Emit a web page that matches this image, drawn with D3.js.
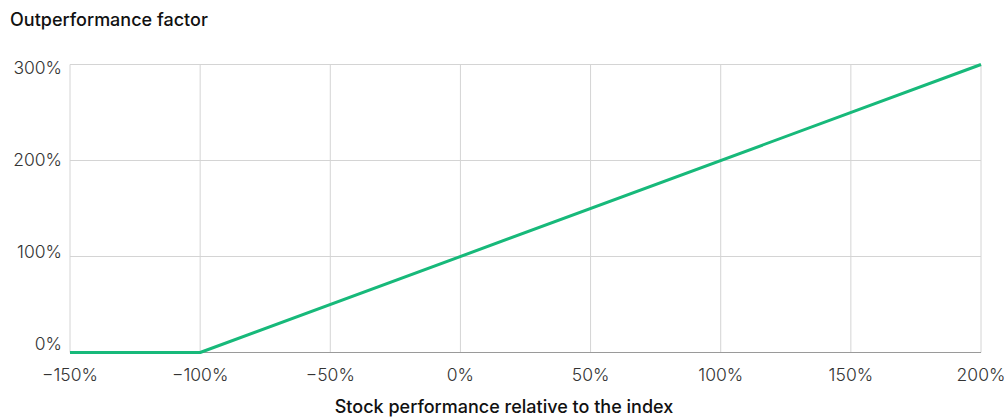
<!DOCTYPE html>
<html><head><meta charset="utf-8">
<script src="https://cdn.jsdelivr.net/npm/d3@7"></script>
<style>
body{margin:0;background:#fff;}
text{font-family:Inter,"Noto Sans",sans-serif;}
</style></head>
<body>
<svg id="c" width="1005" height="417"></svg>
<script>
const xTicks = [-150, -100, -50, 0, 50, 100, 150, 200];
const yTicks = [0, 100, 200, 300];
const perf = [-150, -100, 200];
const factor = [0, 0, 300];
const title = "Outperformance factor";
const xTitle = "Stock performance relative to the index";

const svg = d3.select("#c");
const x = d3.scaleLinear().domain([-150, 200]).range([70, 981]);
const y = d3.scaleLinear().domain([0, 300]).range([352.5, 64.5]);
const yLab = d3.scaleLinear().domain([0, 300]).range([350, 74]);

const fmt = v => (v < 0 ? "\u2212" + Math.abs(v) : v) + "%";

svg.append("g").selectAll("line").data(xTicks).join("line")
  .attr("x1", d => x(d)).attr("x2", d => x(d))
  .attr("y1", y(300)).attr("y2", y(0))
  .attr("stroke", "#d4d4d4").attr("stroke-width", 1);
svg.append("g").selectAll("line").data(yTicks.filter(d => d > 0)).join("line")
  .attr("x1", x(-150)).attr("x2", x(200))
  .attr("y1", d => y(d)).attr("y2", d => y(d))
  .attr("stroke", "#d4d4d4").attr("stroke-width", 1);
svg.append("line").attr("x1", x(-150)).attr("x2", x(200))
  .attr("y1", y(0)).attr("y2", y(0)).attr("stroke", "#9a9a9a").attr("stroke-width", 1);

svg.append("g").selectAll("text").data(yTicks).join("text")
  .attr("x", 62).attr("y", d => yLab(d))
  .attr("text-anchor", "end").attr("font-size", 17.5).attr("font-weight", 300).attr("fill", "#333")
  .text(fmt);
svg.append("g").selectAll("text").data(xTicks).join("text")
  .attr("x", d => x(d)).attr("y", 381)
  .attr("text-anchor", "middle").attr("font-size", 17.5).attr("font-weight", 300).attr("fill", "#333")
  .text(fmt);

const line = d3.line().x((d, i) => x(d)).y((d, i) => y(factor[i]));
svg.append("path").datum(perf).attr("d", line)
  .attr("fill", "none").attr("stroke", "#17b97a").attr("stroke-width", 3)
  .attr("stroke-linejoin", "round");

svg.append("text").attr("x", 10).attr("y", 26).attr("font-size", 18)
  .attr("font-weight", 500).attr("fill", "#111").text(title);
svg.append("text").attr("x", 504).attr("y", 413).attr("text-anchor", "middle")
  .attr("font-size", 18).attr("font-weight", 500).attr("fill", "#111").text(xTitle);
</script>
</body></html>
